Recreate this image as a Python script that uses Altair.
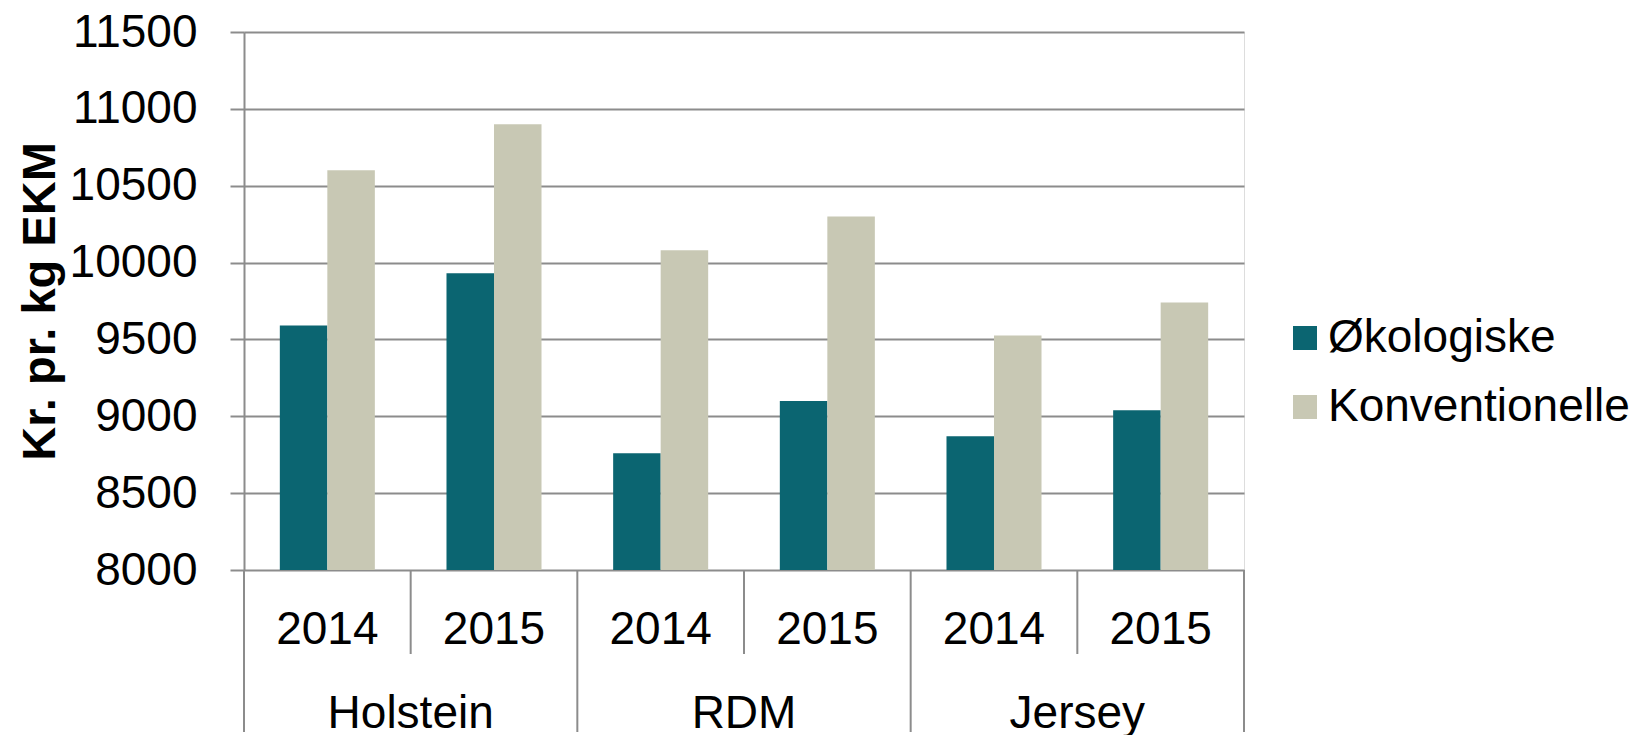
import altair as alt
import pandas as pd

groups = ["Holstein", "RDM", "Jersey"]
years = ["2014", "2015"]
series = ["Økologiske", "Konventionelle"]
oko = [9590, 9930, 8760, 9100, 8870, 9040]
konv = [10600, 10900, 10080, 10300, 9525, 9740]
colors = ["#0b6571", "#c8c8b4"]
y_ticks = [8000, 8500, 9000, 9500, 10000, 10500, 11000, 11500]

slots = [f"{g} {y}" for g in groups for y in years]
rows = []
for i, s in enumerate(slots):
    rows.append({"slot": s, "series": series[0], "value": oko[i]})
    rows.append({"slot": s, "series": series[1], "value": konv[i]})
df = pd.DataFrame(rows)

FONT = "Liberation Sans"
GRID = "#8c8c8c"
W, H = 1000, 538

xscale = alt.Scale(domain=slots, paddingInner=0, paddingOuter=0)

bars = alt.Chart(df).mark_bar(clip=True).encode(
    x=alt.X("slot:N", scale=xscale, sort=slots,
            axis=alt.Axis(title=None, labelExpr="split(datum.label, ' ')[1]",
                          labelFontSize=46, labelFont=FONT, labelColor="black",
                          labelAngle=0, labelPadding=37, ticks=False, domain=False)),
    xOffset=alt.XOffset("series:N", sort=series,
                        scale=alt.Scale(domain=series, paddingInner=0, paddingOuter=0.754)),
    y=alt.Y("value:Q", scale=alt.Scale(domain=[8000, 11500], nice=False, zero=False),
            axis=alt.Axis(values=y_ticks, format="d", title="Kr. pr. kg EKM", titleFont=FONT,
                          titleFontSize=47, titleFontWeight="bold", titleColor="black",
                          titleAngle=270, titleX=-204, titleY=269, titleAlign="center",
                          titleBaseline="middle",
                          labelFont=FONT, labelFontSize=46, labelColor="black",
                          labelPadding=33, tickSize=14, tickColor=GRID, tickWidth=2,
                          domainColor=GRID, domainWidth=2,
                          grid=True, gridColor=GRID, gridWidth=2)),
    color=alt.Color("series:N", sort=series,
                    scale=alt.Scale(domain=series, range=colors),
                    legend=alt.Legend(title=None, orient="none", legendX=1038, legendY=283,
                                      symbolType="square", symbolSize=576,
                                      symbolStrokeWidth=0, symbolOpacity=1,
                                      labelFont=FONT, labelFontSize=46, labelColor="black",
                                      labelOffset=0, rowPadding=23, padding=0,
                                      labelLimit=500)),
)

sep_long_df = pd.DataFrame({"slot": [f"{g} 2014" for g in groups]})
sep_end_df = pd.DataFrame({"slot": [slots[-1]]})
sep_short_df = pd.DataFrame({"slot": [f"{g} 2015" for g in groups]})
grp_df = pd.DataFrame({"slot": [f"{g} 2015" for g in groups], "label": groups})

sep_long = alt.Chart(sep_long_df).mark_rule(color=GRID, strokeWidth=2).encode(
    x=alt.X("slot:N", scale=xscale, bandPosition=0),
    y=alt.value(H), y2=alt.value(700))
sep_end = alt.Chart(sep_end_df).mark_rule(color=GRID, strokeWidth=2).encode(
    x=alt.X("slot:N", scale=xscale, bandPosition=1),
    y=alt.value(H), y2=alt.value(700))
sep_short = alt.Chart(sep_short_df).mark_rule(color=GRID, strokeWidth=2).encode(
    x=alt.X("slot:N", scale=xscale, bandPosition=0),
    y=alt.value(H), y2=alt.value(622))
grp_text = alt.Chart(grp_df).mark_text(font=FONT, fontSize=46, color="black",
                                       baseline="alphabetic", align="center").encode(
    x=alt.X("slot:N", scale=xscale, bandPosition=0),
    y=alt.value(696), text="label:N")

chart = alt.layer(bars, sep_long, sep_end, sep_short, grp_text).properties(
    width=W, height=H,
    autosize=alt.AutoSizeParams(type="none"),
    padding={"left": 236, "top": 24, "right": 394, "bottom": 165},
).configure_view(strokeWidth=0, stroke="transparent").configure(background="white")

chart.save("out.html", embed_options={"renderer": "svg", "actions": False})
